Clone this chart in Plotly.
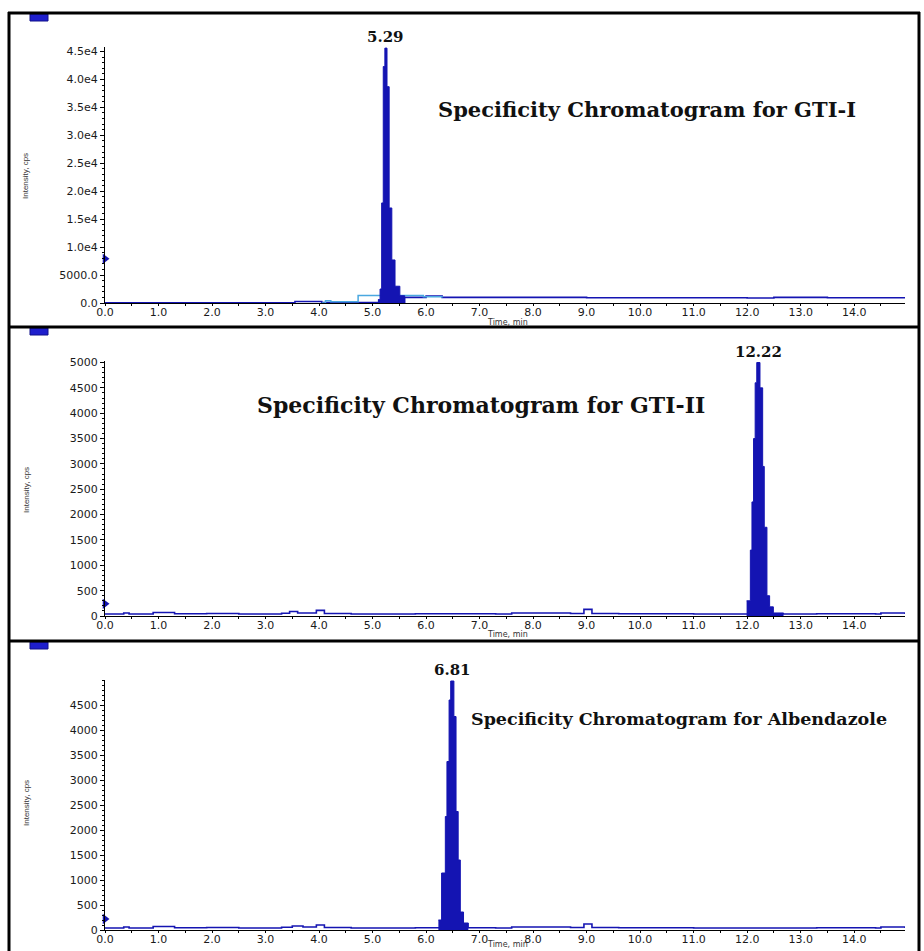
import plotly.graph_objects as go

W, H = 924, 951

# ---------------- data ----------------
# Panel 1 : GTI-I
p1_peak_t = [5.10, 5.14, 5.17, 5.20, 5.23, 5.27, 5.31, 5.36, 5.42, 5.51, 5.60]
p1_peak_i = [600, 2500, 17900, 42300, 45600, 38700, 17000, 7700, 3000, 1300, 1000]
p1_base_t = [0.0, 3.55, 4.05, 4.70, 5.60, 6.00, 6.30, 9.0, 12.0, 12.5, 13.5, 14.95]
p1_base_i = [30, 280, 60, 60, 1000, 1250, 1000, 950, 900, 1000, 950, 950]
p1_cyan_t = [4.05, 4.12, 4.22, 4.73, 5.95, 6.30]
p1_cyan_i = [0, 420, 220, 1350, 1100, 1000]
p1_label = "5.29"
p1_title = "Specificity Chromatogram for GTI-I"
p1_yticks = [0, 5000, 10000, 15000, 20000, 25000, 30000, 35000, 40000, 45000]
p1_yticktext = ["0.0", "5000.0", "1.0e4", "1.5e4", "2.0e4", "2.5e4", "3.0e4", "3.5e4", "4.0e4", "4.5e4"]
p1_marker = 7900

# Panel 2 : GTI-II
p2_peak_t = [11.99, 12.06, 12.09, 12.12, 12.15, 12.18, 12.24, 12.29, 12.32, 12.37, 12.42, 12.49, 12.68]
p2_peak_i = [300, 1300, 2250, 3500, 4600, 5000, 4500, 2950, 1750, 400, 180, 60, 40]
p2_base_t = [0.0, 0.35, 0.45, 0.9, 1.3, 1.9, 2.5, 3.3, 3.45, 3.6, 3.95, 4.1, 4.6, 5.8, 7.3, 7.6,
             8.7, 8.95, 9.1, 9.6, 11.0, 13.3, 14.4, 14.5, 14.95]
p2_base_i = [40, 60, 40, 70, 45, 50, 40, 55, 90, 60, 110, 50, 40, 45, 40, 60,
             50, 130, 50, 45, 40, 45, 40, 60, 40]
p2_label = "12.22"
p2_title = "Specificity Chromatogram for GTI-II"
p2_yticks = [0, 500, 1000, 1500, 2000, 2500, 3000, 3500, 4000, 4500, 5000]
p2_marker = 240

# Panel 3 : Albendazole
p3_peak_t = [6.23, 6.29, 6.36, 6.39, 6.43, 6.46, 6.52, 6.56, 6.60, 6.64, 6.70, 6.79]
p3_peak_i = [200, 1140, 2270, 3370, 4600, 4980, 4270, 2370, 1400, 360, 140, 60]
p3_base_t = [0.0, 0.35, 0.45, 0.9, 1.3, 1.9, 2.5, 3.3, 3.5, 3.7, 3.95, 4.1, 4.6, 5.8, 7.3, 7.6,
             8.7, 8.95, 9.1, 9.6, 11.0, 13.3, 14.4, 14.5, 14.95]
p3_base_i = [40, 60, 40, 70, 45, 50, 40, 55, 80, 60, 100, 50, 40, 45, 40, 60,
             50, 120, 50, 45, 40, 45, 40, 60, 40]
p3_label = "6.81"
p3_title = "Specificity Chromatogram for Albendazole"
p3_yticks = [0, 500, 1000, 1500, 2000, 2500, 3000, 3500, 4000, 4500]
p3_marker = 220

x_ticks = list(range(0, 15))
x_ticktext = [f"{v:.1f}" for v in x_ticks]
y_title = "Intensity, cps"
x_title = "Time, min"

# ---------------- style ----------------
BLUE = "#1414B2"
CYAN = "#4AA8E0"
TICKFONT = dict(family="DejaVu Sans", size=11, color="#1a1a1a")
TITLEFONT = "DejaVu Serif"


def px_x(p):
    return p / W


def px_y(p):
    return 1 - p / H


fig = go.Figure()

panels = [
    dict(peak_t=p1_peak_t, peak_i=p1_peak_i, base_t=p1_base_t, base_i=p1_base_i,
         label=p1_label, title=p1_title, yticks=p1_yticks, yticktext=p1_yticktext,
         yminor=1000, yrange=[0, 45800], top=47, bot=303, marker=p1_marker,
         title_xy=(647, 110), title_size=21, ytitle_y=176, xtitle_y=322, sep_top=13),
    dict(peak_t=p2_peak_t, peak_i=p2_peak_i, base_t=p2_base_t, base_i=p2_base_i,
         label=p2_label, title=p2_title, yticks=p2_yticks, yticktext=[str(v) for v in p2_yticks],
         yminor=100, yrange=[0, 5030], top=361, bot=616, marker=p2_marker,
         title_xy=(481, 405), title_size=22, ytitle_y=490, xtitle_y=634, sep_top=327),
    dict(peak_t=p3_peak_t, peak_i=p3_peak_i, base_t=p3_base_t, base_i=p3_base_i,
         label=p3_label, title=p3_title, yticks=p3_yticks, yticktext=[str(v) for v in p3_yticks],
         yminor=100, yrange=[0, 5000], top=680, bot=930, marker=p3_marker,
         title_xy=(679, 719), title_size=17.5, ytitle_y=803, xtitle_y=944, sep_top=641),
]

annotations = []
shapes = []

for k, p in enumerate(panels, start=1):
    xa = "x" if k == 1 else f"x{k}"
    ya = "y" if k == 1 else f"y{k}"
    # baseline
    fig.add_trace(go.Scatter(x=p["base_t"], y=p["base_i"], mode="lines", line_shape="hv",
                             line=dict(color=BLUE, width=1.6), xaxis=xa, yaxis=ya,
                             showlegend=False, hoverinfo="skip"))
    if k == 1:
        fig.add_trace(go.Scatter(x=p1_cyan_t, y=p1_cyan_i, mode="lines", line_shape="hv",
                                 line=dict(color=CYAN, width=1.5), xaxis=xa, yaxis=ya,
                                 showlegend=False, hoverinfo="skip"))
    # peak
    fig.add_trace(go.Scatter(x=p["peak_t"], y=p["peak_i"], mode="lines", line_shape="hv",
                             line=dict(color=BLUE, width=1), fill="tozeroy", fillcolor=BLUE,
                             xaxis=xa, yaxis=ya, showlegend=False))
    # y-axis marker
    fig.add_trace(go.Scatter(x=[0], y=[p["marker"]], mode="markers",
                             marker=dict(symbol="triangle-right", size=9, color=BLUE),
                             cliponaxis=False, xaxis=xa, yaxis=ya, showlegend=False,
                             hoverinfo="skip"))

    dom_y = [px_y(p["bot"]), px_y(p["top"])]
    xkey = "xaxis" if k == 1 else f"xaxis{k}"
    ykey = "yaxis" if k == 1 else f"yaxis{k}"
    fig.update_layout(**{
        xkey: dict(domain=[px_x(105), px_x(905)], range=[0, 14.95], anchor=ya,
                   automargin=False,
                   tickmode="array", tickvals=x_ticks, ticktext=x_ticktext,
                   showline=True, linecolor="black", linewidth=1, ticks="outside",
                   ticklen=2, tickcolor="black", tickfont=TICKFONT, showgrid=False,
                   zeroline=False, ticklabelstandoff=-3,
                   minor=dict(tickmode="linear", tick0=0, dtick=0.5, ticks="outside",
                              ticklen=2, tickcolor="black")),
        ykey: dict(domain=dom_y, range=p["yrange"], anchor=xa, automargin=False,
                   tickmode="array", tickvals=p["yticks"], ticktext=p["yticktext"],
                   showline=True, linecolor="black", linewidth=1.2, ticks="outside",
                   ticklen=4, tickcolor="black", tickfont=TICKFONT, showgrid=False,
                   zeroline=False,
                   minor=dict(tickmode="linear", tick0=0, dtick=p["yminor"],
                              ticks="outside", ticklen=2, tickcolor="black")),
    })

    # peak label
    imax = max(range(len(p["peak_i"])), key=lambda j: p["peak_i"][j])
    t_apex = (p["peak_t"][imax] + p["peak_t"][imax + 1]) / 2
    annotations.append(dict(x=t_apex, y=p["peak_i"][imax], xref=xa, yref=ya,
                            text=f"<b>{p['label']}</b>", showarrow=False,
                            yanchor="bottom", yshift=0,
                            font=dict(family=TITLEFONT, size=15, color="#111111")))
    # title
    annotations.append(dict(x=px_x(p["title_xy"][0]), y=px_y(p["title_xy"][1]),
                            xref="paper", yref="paper", text=f"<b>{p['title']}</b>",
                            showarrow=False, xanchor="center", yanchor="middle",
                            font=dict(family=TITLEFONT, size=p["title_size"], color="#111111")))
    # axis titles
    annotations.append(dict(x=px_x(26), y=px_y(p["ytitle_y"]), xref="paper", yref="paper",
                            text=y_title, textangle=-90, showarrow=False,
                            xanchor="center", yanchor="middle",
                            font=dict(family="Liberation Sans", size=8, color="#333333")))
    annotations.append(dict(x=px_x(507), y=px_y(p["xtitle_y"]), xref="paper", yref="paper",
                            text=x_title, showarrow=False, xanchor="center", yanchor="middle",
                            font=dict(family="DejaVu Sans", size=8, color="#333333")))
    # small blue box at top-left of panel
    shapes.append(dict(type="rect", xref="paper", yref="paper",
                       x0=px_x(30), x1=px_x(48), y0=px_y(p["sep_top"] + 8), y1=px_y(p["sep_top"] + 1),
                       fillcolor="#1E1ECC", line=dict(color="#10108A", width=1)))

# frame lines
for y in [13, 327, 641]:
    shapes.append(dict(type="line", xref="paper", yref="paper", x0=px_x(8), x1=px_x(920),
                       y0=px_y(y), y1=px_y(y), line=dict(color="black", width=3)))
for x in [9, 919]:
    shapes.append(dict(type="line", xref="paper", yref="paper", x0=px_x(x), x1=px_x(x),
                       y0=px_y(12), y1=px_y(952), line=dict(color="black", width=3)))

fig.update_layout(width=W, height=H, margin=dict(l=0, r=0, t=0, b=0, autoexpand=False),
                  paper_bgcolor="white", plot_bgcolor="white",
                  annotations=annotations, shapes=shapes, showlegend=False)

fig.write_html("out.html")
